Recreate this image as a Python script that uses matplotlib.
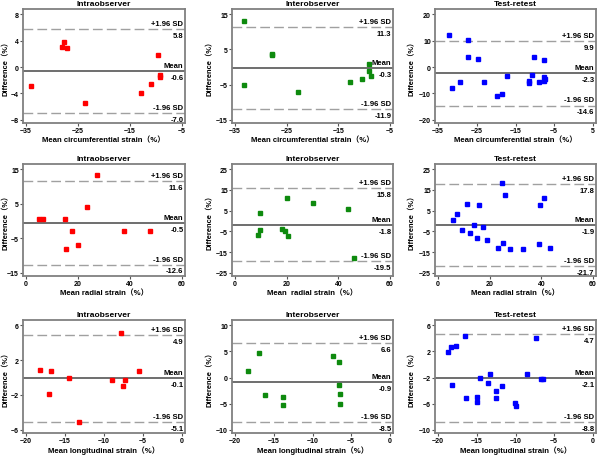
import matplotlib
matplotlib.use("Agg")
import matplotlib.pyplot as plt

plt.rcParams['font.family'] = ['Liberation Sans', 'Noto Sans CJK SC', 'DejaVu Sans']
plt.rcParams['font.weight'] = 'bold'

# ---- data ----
titles = ["Intraobserver", "Interobserver", "Test-retest"]
xlabels = ["Mean circumferential strain（%）", "Mean radial strain（%）", "Mean longitudinal strain（%）"]
xlabel_radial_inter = "Mean  radial strain（%）"
colors = ["#ff0000", "#0e8a0e", "#0000ff"]

# row 1: circumferential
circ_intra_x = [-34.1, -27.8, -28.1, -27.1, -23.6, -12.8, -10.9, -9.6, -9.2, -9.2]
circ_intra_y = [-2.9, 3.8, 3.1, 2.95, -5.5, -4.0, -2.6, 1.9, -1.25, -1.5]
circ_inter_x = [-33.3, -33.3, -27.9, -27.8, -22.9, -12.7, -10.4, -9.1, -9.1, -8.6]
circ_inter_y = [13.1, -5.0, 3.5, 3.8, -7.2, -4.2, -3.4, 1.0, -1.2, -2.5]
circ_test_x = [-32.2, -31.3, -29.3, -27.2, -27.3, -24.7, -23.2, -19.9, -18.5, -17.1,
               -11.6, -11.4, -10.7, -10.1, -8.8, -7.6, -7.7, -7.6, -7.3]
circ_test_y = [12.1, -7.8, -5.6, 10.1, 3.9, 2.9, -5.5, -11.1, -10.2, -3.4,
               -5.4, -5.9, -3.0, 3.9, -5.5, 2.8, -3.6, -5.1, -4.4]

# row 2: radial
rad_intra_x = [4.9, 6.6, 15.1, 15.2, 17.6, 19.9, 23.6, 27.2, 37.8, 47.7]
rad_intra_y = [0.6, 0.6, 0.5, -8.1, -3.0, -6.9, 4.2, 13.4, -3.0, -3.0]
rad_inter_x = [9.0, 9.5, 9.8, 18.0, 19.2, 20.5, 20.3, 30.2, 43.9, 46.0]
rad_inter_y = [-6.8, -4.4, 3.9, -3.9, -4.8, -7.2, 11.3, 8.5, 5.9, -17.9]
rad_test_x = [5.8, 7.4, 9.2, 11.1, 12.5, 14.1, 15.2, 15.7, 17.5, 19.0,
              23.1, 24.8, 25.2, 25.8, 27.7, 32.9, 39.1, 39.6, 41.2, 43.2]
rad_test_y = [0.7, 3.3, -4.3, 8.4, -5.7, -1.9, -8.0, 7.5, -2.9, -9.0,
              -12.8, 18.5, -10.8, 12.5, -13.6, -13.7, -11.0, 7.9, 11.1, -12.9]

# row 3: longitudinal
lon_intra_x = [-18.2, -16.8, -17.0, -14.5, -13.2, -9.0, -7.8, -7.6, -7.3, -5.5]
lon_intra_y = [0.88, 0.73, -1.89, -0.09, -5.07, -0.24, 5.1, -0.99, -0.28, 0.77]
lon_inter_x = [-18.3, -16.9, -16.2, -13.8, -13.8, -7.3, -6.6, -6.6, -6.5, -6.5]
lon_inter_y = [1.2, 4.7, -3.4, -3.8, -5.2, 4.1, 3.0, -1.4, -3.1, -5.1]
lon_test_x = [-18.7, -18.3, -17.7, -18.2, -16.5, -16.4, -15.0, -15.0, -14.6, -13.6,
              -13.3, -12.5, -12.5, -11.8, -10.1, -9.9, -8.5, -7.3, -6.7, -6.4]
lon_test_y = [1.87, 2.6, 2.8, -3.1, 4.4, -5.1, -5.0, -5.8, -2.0, -2.8,
              -1.5, -4.0, -5.1, -3.3, -5.9, -6.3, -1.5, 4.1, -2.2, -2.2]

# limits of agreement: (upper, mean, lower)
loa = [[(5.8, -0.6, -7.0), (11.3, -0.3, -11.9), (9.9, -2.3, -14.6)],
       [(11.6, -0.5, -12.6), (15.8, -1.8, -19.5), (17.8, -1.9, -21.7)],
       [(4.9, -0.1, -5.1), (6.6, -0.9, -8.5), (4.7, -2.1, -8.8)]]

xs = [[circ_intra_x, circ_inter_x, circ_test_x],
      [rad_intra_x, rad_inter_x, rad_test_x],
      [lon_intra_x, lon_inter_x, lon_test_x]]
ys = [[circ_intra_y, circ_inter_y, circ_test_y],
      [rad_intra_y, rad_inter_y, rad_test_y],
      [lon_intra_y, lon_inter_y, lon_test_y]]

xticks = [[[-35, -25, -15, -5], [-35, -25, -15, -5], [-35, -25, -15, -5, 5]],
          [[0, 20, 40, 60]] * 3,
          [[-20, -15, -10, -5, 0]] * 3]
yticks = [[[-8, -4, 0, 4, 8], [-15, -5, 5, 15], [-20, -10, 0, 10, 20]],
          [[-15, -5, 5, 15], [-25, -15, -5, 5, 15, 25], [-25, -15, -5, 5, 15, 25]],
          [[-6, -2, 2, 6], [-10, -5, 0, 5, 10], [-10, -6, -2, 2, 6]]]

# ---- layout (pixels) ----
W, H = 600, 456
col_l = [23, 232, 435]
col_w = [162, 161, 161]
row_t = [10, 165, 321]
row_b = [124, 277, 434]
ylab_right = [10, 214, 416]   # right edge of the rotated y label, px

fig = plt.figure(figsize=(W / 100, H / 100), dpi=100)

for r in range(3):
    for c in range(3):
        ax = fig.add_axes([col_l[c] / W, 1 - row_b[r] / H,
                           col_w[c] / W, (row_b[r] - row_t[r]) / H])
        ax.plot(xs[r][c], ys[r][c], 's', color=colors[c], ms=3.4, mec=colors[c], zorder=3)

        up, mn, lo = loa[r][c]
        ax.axhline(mn, color="#555555", lw=1.2)
        ax.axhline(up, color="#a0a0a0", lw=1.0, ls=(0, (7, 3)))
        ax.axhline(lo, color="#a0a0a0", lw=1.0, ls=(0, (7, 3)))

        tk = dict(xycoords=('axes fraction', 'data'), textcoords='offset points',
                  ha='right', fontsize=5.5, fontweight='bold')
        ax.annotate("+1.96 SD", (0.99, up), xytext=(0, 1.5), va='bottom', **tk)
        ax.annotate("%.1f" % up, (0.99, up), xytext=(0, -2), va='top', **tk)
        ax.annotate("Mean", (0.99, mn), xytext=(0, 1.5), va='bottom', **tk)
        ax.annotate("%.1f" % mn, (0.99, mn), xytext=(0, -2), va='top', **tk)
        ax.annotate("-1.96 SD", (0.99, lo), xytext=(0, 1.5), va='bottom', **tk)
        ax.annotate("%.1f" % lo, (0.99, lo), xytext=(0, -2), va='top', **tk)

        xt = xticks[r][c]
        yt = yticks[r][c]
        xr = xt[-1] - xt[0]
        yr = yt[-1] - yt[0]
        ax.set_xlim(xt[0] - 0.02 * xr, xt[-1] + 0.02 * xr)
        ax.set_ylim(yt[0] - 0.03 * yr, yt[-1] + 0.05 * yr)
        ax.set_xticks(xt)
        ax.set_yticks(yt)
        ax.tick_params(labelsize=5, length=2, width=0.8, pad=1, color="#555555")
        for lab in ax.get_xticklabels() + ax.get_yticklabels():
            lab.set_fontweight('bold')
        for s in ax.spines.values():
            s.set_color("#808080")
            s.set_linewidth(1.3)

        ax.set_title(titles[c], fontsize=6, fontweight='bold', pad=3)
        xl = xlabels[r]
        if r == 1 and c == 1:
            xl = xlabel_radial_inter
        ax.set_xlabel(xl, fontsize=5.6, fontweight='bold', labelpad=1)
        ax.set_ylabel("Difference（%）", fontsize=5.4, fontweight='bold')
        ax.yaxis.set_label_coords((ylab_right[c] - col_l[c]) / col_w[c], 0.5)

fig.savefig("out.png", dpi=100)
